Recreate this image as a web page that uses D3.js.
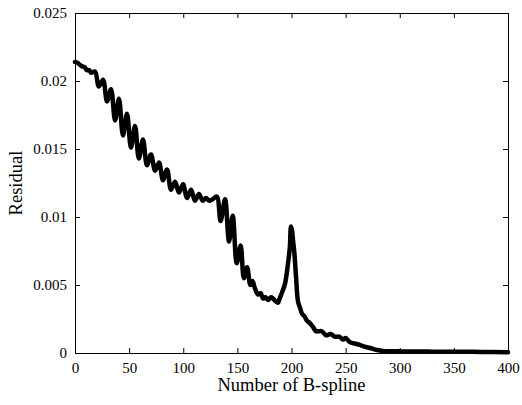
<!DOCTYPE html>
<html>
<head>
<meta charset="utf-8">
<script src="https://cdn.jsdelivr.net/npm/d3@7"></script>
<style>
  body { margin: 0; background: #fff; }
  text { font-family: "Liberation Serif", "DejaVu Serif", serif; }
</style>
</head>
<body>
<svg></svg>
<script>
const svgWidth = 522
const svgHeight = 405
const margins = { top: 13, bottom: 52, left: 75, right: 14 }
const plotWidth = svgWidth - margins.left - margins.right
const plotHeight = svgHeight - margins.top - margins.bottom

// number of B-splines vs residual
const splineCount = [
  0, 3, 6, 9, 11, 13, 15, 18.5, 22, 25.9, 29.6, 33.3, 37, 40.6, 44.3, 48, 51.7, 55.4, 59,
  62.8, 66.5, 70.2, 74, 77.6, 81.3, 85, 88.7, 92.4, 96, 99.8, 103.5, 107.2, 110.8, 114.5,
  118, 121, 124, 127, 131, 134.5, 138.6, 142.3, 145.7, 149.4, 153, 156, 159, 162, 164,
  166, 169, 171.5, 173.7, 176, 178.3, 181, 183, 185.5, 187.5, 189, 191, 194, 196.8,
  198.5, 199.5, 200.5, 201.4, 202.5, 204.2, 206, 208, 209.7, 212, 214, 217, 220,
  222.5, 225, 228, 232, 236, 240, 244, 247.6, 250, 254, 258, 263, 266, 272.5, 279,
  284.5, 290, 300, 312, 330, 350, 375, 400
]
const residual = [
  0.0214, 0.0213, 0.0211, 0.0210, 0.0208, 0.0208, 0.0206, 0.0207, 0.0196, 0.0201, 0.0185,
  0.0194, 0.0171, 0.0187, 0.0160, 0.0176, 0.0151, 0.0167, 0.0143, 0.0157, 0.0138, 0.0146,
  0.0134, 0.0140, 0.0127, 0.0135, 0.0120, 0.0126, 0.0118, 0.0124, 0.0114, 0.0120, 0.0112,
  0.0117, 0.0112, 0.0114, 0.0112, 0.0113, 0.0115, 0.0097, 0.0113, 0.0082, 0.0101, 0.0066,
  0.0079, 0.0055, 0.0063, 0.0050, 0.0053, 0.0048, 0.0043, 0.0044, 0.0040, 0.0041, 0.0039,
  0.0041, 0.0040, 0.0038, 0.0037, 0.0040, 0.0044, 0.0051, 0.0066, 0.0078, 0.0093, 0.0090,
  0.0083, 0.0075, 0.0056, 0.0038, 0.0033, 0.0029, 0.0027, 0.0024, 0.0022, 0.0019,
  0.0016, 0.0016, 0.0016, 0.0013, 0.0014, 0.0012, 0.0012, 0.0010, 0.0011, 0.0008,
  0.0007, 0.0006, 0.0005, 0.00037, 0.00022, 0.00015, 0.00013, 0.00012, 0.00011,
  0.0001, 0.00009, 0.00008, 0.00006
]
const xTicks = [0, 50, 100, 150, 200, 250, 300, 350, 400]
const yTicks = [0, 0.005, 0.01, 0.015, 0.02, 0.025]

const svg = d3.select("svg")
  .attr("width", svgWidth)
  .attr("height", svgHeight)

const xScale = d3.scaleLinear()
  .domain([0, 400])
  .range([0, plotWidth])
const yScale = d3.scaleLinear()
  .domain([0, 0.025])
  .range([plotHeight, 0])

const plot = svg.append("g")
  .attr("transform", `translate(${margins.left},${margins.top})`)

const line = d3.line()
  .x((d, i) => xScale(splineCount[i]))
  .y((d) => yScale(d))
  .curve(d3.curveCatmullRom)

plot.append("path")
  .datum(residual)
  .attr("d", line)
  .attr("fill", "none")
  .attr("stroke", "#000")
  .attr("stroke-width", 4.5)
  .attr("stroke-linejoin", "round")
  .attr("stroke-linecap", "round")

// axes with inward ticks, mirrored on top and right
const fmtY = (d) => d === 0 ? "0" : String(+d.toFixed(3))

const bottomAxis = plot.append("g")
  .attr("transform", `translate(0,${plotHeight})`)
  .call(d3.axisBottom(xScale).tickValues(xTicks).tickSizeInner(-5).tickSizeOuter(0).tickPadding(9))
const topAxis = plot.append("g")
  .call(d3.axisTop(xScale).tickValues(xTicks).tickSizeInner(-5).tickSizeOuter(0).tickFormat(""))
const leftAxis = plot.append("g")
  .call(d3.axisLeft(yScale).tickValues(yTicks).tickSizeInner(-5).tickSizeOuter(0).tickPadding(8).tickFormat(fmtY))
const rightAxis = plot.append("g")
  .attr("transform", `translate(${plotWidth},0)`)
  .call(d3.axisRight(yScale).tickValues(yTicks).tickSizeInner(-5).tickSizeOuter(0).tickFormat(""))

;[bottomAxis, topAxis, leftAxis, rightAxis].forEach((g) => {
  g.selectAll("path").attr("stroke", "#000").attr("stroke-width", 1)
  g.selectAll("line").attr("stroke", "#000").attr("stroke-width", 1)
  g.selectAll("text")
    .attr("font-family", "'Liberation Serif', serif")
    .attr("font-size", 15)
    .attr("fill", "#000")
})

svg.append("text")
  .text("Number of B-spline")
  .attr("x", margins.left + plotWidth / 2)
  .attr("y", svgHeight - 14)
  .attr("text-anchor", "middle")
  .attr("font-size", 18.5)

svg.append("text")
  .text("Residual")
  .attr("transform", `translate(22,${margins.top + plotHeight / 2}) rotate(-90)`)
  .attr("text-anchor", "middle")
  .attr("font-size", 18.5)
</script>
</body>
</html>
